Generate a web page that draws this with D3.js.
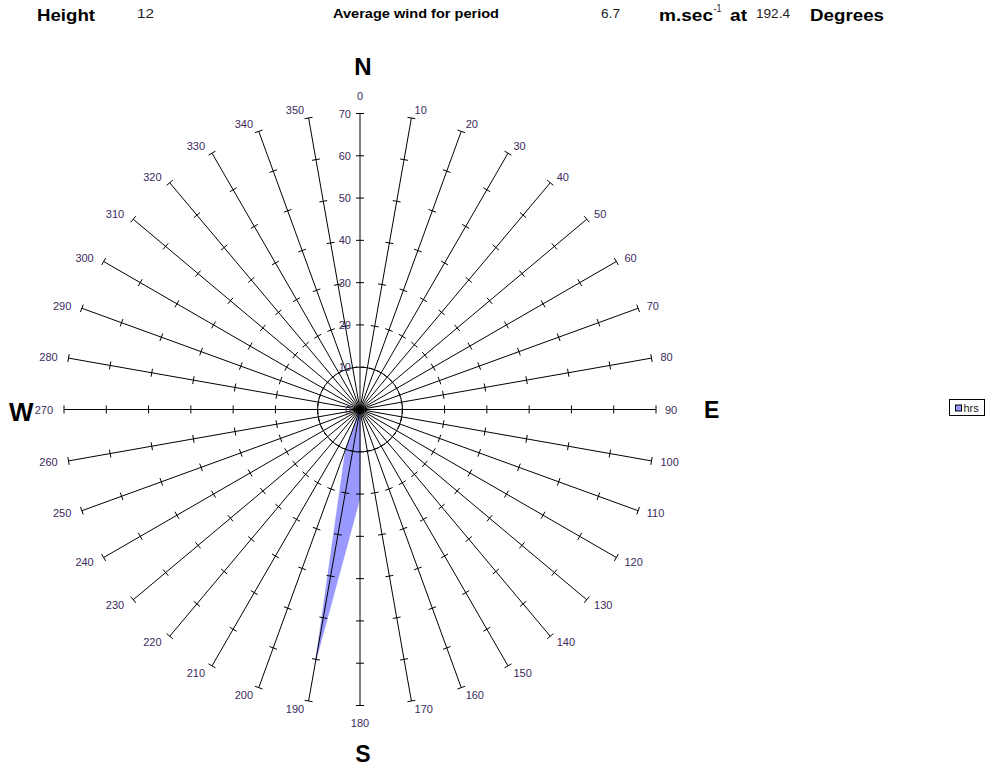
<!DOCTYPE html>
<html><head><meta charset="utf-8">
<script src="https://cdn.jsdelivr.net/npm/d3@7"></script>
<style>body{margin:0;background:#fff}svg{display:block}text{font-family:"Liberation Sans",Arial,sans-serif}</style>
</head><body><svg id="c" width="990" height="767"></svg>
<script>
const directions = [0,10,20,30,40,50,60,70,80,90,100,110,120,130,140,150,160,170,180,190,200,210,220,230,240,250,260,270,280,290,300,310,320,330,340,350];
const hrs =        [0,0,0,0,0,0,0,0,0,0,0,0,0,0,0,0,0,1,21,61,10,0,0,0,0,0,0,0,0,0,0,0,0,0,0,0];
const valueTicks = [0,10,20,30,40,50,60,70];
const seriesName = "hrs";
const headerItems = [
  {t:"Height", x:37, y:21, size:17, bold:true, len:58},
  {t:"12", x:137, y:18, size:12, bold:false, len:17},
  {t:"Average wind for period", x:333, y:18, size:12, bold:true, len:166},
  {t:"6.7", x:601, y:18, size:12, bold:false, len:19},
  {t:"m.sec", x:659, y:21, size:17, bold:true, len:54},
  {t:"-1", x:713.5, y:11.5, size:10, bold:false, len:8},
  {t:"at", x:730, y:21, size:17, bold:true, len:17},
  {t:"192.4", x:756, y:18, size:12, bold:false, len:34},
  {t:"Degrees", x:810, y:21, size:17, bold:true, len:74}
];

const svg = d3.select("#c");
const cx = 360, cy = 409.5, R = 296;
const r = d3.scaleLinear().domain([0, 70]).range([0, R]);
const ang = d3.scaleLinear().domain([0, 360]).range([0, 2 * Math.PI]);
const g = svg.append("g").attr("transform", `translate(${cx},${cy})`);

// series fill
const data = directions.map((d, i) => ({d, v: hrs[i]}));
g.append("path")
  .datum(data)
  .attr("d", d3.lineRadial().angle(d => ang(d.d)).radius(d => r(d.v)).curve(d3.curveLinearClosed))
  .attr("fill", "#9999FF").attr("stroke", "#7777dd").attr("stroke-width", 0.3);

// dashed gridline circle at 10
g.append("circle").attr("r", r(10)).attr("fill", "none")
  .attr("stroke", "#000").attr("stroke-dasharray", "4,4").attr("stroke-width", 1);

// spokes with ticks
directions.forEach(d => {
  const a = ang(d);
  const ux = Math.sin(a), uy = -Math.cos(a);
  const px = -uy, py = ux;
  g.append("line").attr("x1", 0).attr("y1", 0).attr("x2", r(70) * ux).attr("y2", r(70) * uy)
    .attr("stroke", "#000").attr("stroke-width", 1);
  valueTicks.slice(1).forEach(v => {
    const bx = r(v) * ux, by = r(v) * uy, h = 4;
    g.append("line").attr("x1", bx - px * h).attr("y1", by - py * h)
      .attr("x2", bx + px * h).attr("y2", by + py * h)
      .attr("stroke", "#000").attr("stroke-width", 1);
  });
});

// direction labels
directions.forEach(d => {
  const a = ang(d);
  const s = Math.sin(a), c = Math.cos(a);
  const ex = r(70) * s, ey = -r(70) * c;
  const t = g.append("text").text(d).attr("font-size", 11).attr("fill", "#3c2a5c")
    .attr("dominant-baseline", "central").attr("text-anchor", "middle");
  const w = t.node().getComputedTextLength();
  let ox, oy;
  if (Math.abs(s) < 0.01) { ox = 0; oy = c > 0 ? -18 : 17.5; }
  else if (s > 0) { ox = 2 + 7 * Math.abs(s) + w / 2; oy = -c * 8; }
  else { ox = -(3 + 8 * Math.abs(s) + w / 2); oy = -c * 8; }
  t.attr("x", ex + ox).attr("y", ey + oy);
});

// value axis labels
valueTicks.forEach(v => {
  g.append("text").text(v).attr("x", -9).attr("y", -r(v)).attr("font-size", 11)
    .attr("fill", "#3c2a5c").attr("text-anchor", "end").attr("dominant-baseline", "central");
});

// compass letters
const compass = [
  {t:"N", x:363, y:75, a:"middle", s:24},
  {t:"E", x:704, y:418, a:"start", s:23},
  {t:"S", x:363, y:762, a:"middle", s:23},
  {t:"W", x:9, y:421, a:"start", s:26}
];
compass.forEach(k => svg.append("text").text(k.t).attr("x", k.x).attr("y", k.y)
  .attr("text-anchor", k.a).attr("font-size", k.s).attr("font-weight", "bold").attr("fill", "#000"));

// header
headerItems.forEach(h => svg.append("text").text(h.t).attr("x", h.x).attr("y", h.y)
  .attr("font-size", h.size).attr("font-weight", h.bold ? "bold" : "normal")
  .attr("fill", h.bold ? "#000" : "#222")
  .attr("textLength", h.len).attr("lengthAdjust", "spacingAndGlyphs"));

// legend
const lg = svg.append("g").attr("transform", "translate(949.5,399.5)");
lg.append("rect").attr("width", 35).attr("height", 16).attr("fill", "#fff").attr("stroke", "#000");
lg.append("rect").attr("x", 6).attr("y", 5.5).attr("width", 6).attr("height", 6)
  .attr("fill", "#9999FF").attr("stroke", "#000");
lg.append("text").text(seriesName).attr("x", 14).attr("y", 12.5).attr("font-size", 11).attr("fill", "#222");
</script></body></html>
